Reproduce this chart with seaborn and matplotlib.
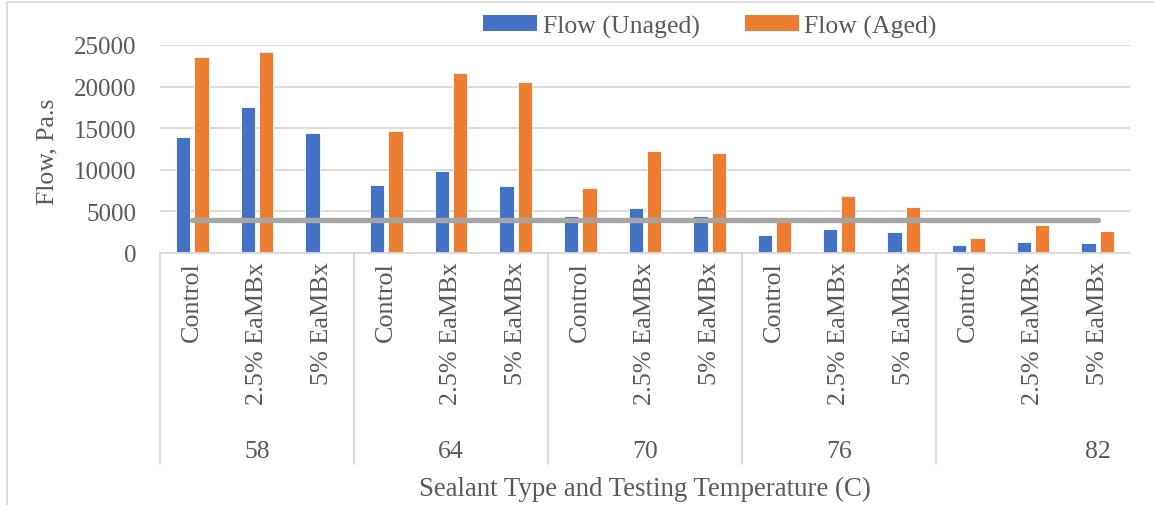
import matplotlib
matplotlib.use("Agg")
import matplotlib.pyplot as plt
import seaborn as sns
import pandas as pd
from matplotlib.lines import Line2D
from matplotlib.patches import Patch

temperatures = ["58", "64", "70", "76", "82"]
sealants = ["Control", "2.5% EaMBx", "5% EaMBx"]
flow_unaged = [14000, 17600, 14400, 8200, 9900, 8000, 4450, 5380, 4450,
               2170, 2890, 2530, 930, 1290, 1200]
flow_aged = [23500, 24100, 0, 14700, 21600, 20500, 7850, 12250, 12000,
             3900, 6870, 5540, 1770, 3410, 2650]
threshold = [4000, 4000, 4000, 4000, 4000, 4000, 4000, 4000, 4000,
             4000, 4000, 4000, 4000, 4000, 4000]
yticks = [0, 5000, 10000, 15000, 20000, 25000]
series_names = ["Flow (Unaged)", "Flow (Aged)"]

blue = "#4472C4"
orange = "#ED7D31"
grey = "#A5A5A5"
txt = "#595959"
gridc = "#D9D9D9"

sns.set_style("white")
plt.rcParams["font.family"] = ["Liberation Serif", "DejaVu Serif"]
plt.rcParams["font.size"] = 18

cats = [f"{t}|{s}" for t in temperatures for s in sealants]
df = pd.DataFrame({
    "cat": cats * 2,
    "value": flow_unaged + flow_aged,
    "series": [series_names[0]] * len(cats) + [series_names[1]] * len(cats),
})
line_df = pd.DataFrame({"pos": list(range(len(cats))), "value": threshold})

fig = plt.figure(figsize=(11.54, 5.06), dpi=100)
ax = fig.add_axes([160 / 1154, 1 - 254 / 506, (1130 - 160) / 1154, (254 - 46) / 506])

sns.barplot(data=df, x="cat", y="value", hue="series", order=cats,
            hue_order=series_names, palette=[blue, orange], saturation=1,
            width=0.57, gap=0.21, ax=ax, legend=False, zorder=2,
            linewidth=0.6, edgecolor="white")
sns.lineplot(data=line_df, x="pos", y="value", color=grey, linewidth=3.8,
             ax=ax, zorder=3, solid_capstyle="round")

ax.set_xlim(-0.5, len(cats) - 0.5)
ax.set_ylim(0, 25000)
ax.set_yticks(yticks)
ax.set_yticklabels([str(v) for v in yticks], color=txt, fontsize=18)
ax.grid(axis="y", color=gridc, linewidth=1.3, zorder=0)
ax.set_axisbelow(True)
for s in ["left", "right", "top"]:
    ax.spines[s].set_visible(False)
ax.spines["bottom"].set_color(gridc)
ax.spines["bottom"].set_linewidth(1.3)
ax.tick_params(axis="y", length=0, pad=17)

ax.set_xticks(range(len(cats)))
ax.set_xticklabels([s for t in temperatures for s in sealants], rotation=90,
                   color=txt, fontsize=18.8, va="top", ha="center")
ax.tick_params(axis="x", length=0, pad=6)

# group separators
trans = ax.get_xaxis_transform()
for b in [-0.5, 2.5, 5.5, 8.5, 11.5]:
    ax.add_line(Line2D([b, b], [0, -211 / 208], transform=trans, color=gridc,
                       linewidth=1.3, clip_on=False))

group_pos = [1, 4, 7, 10, 14]
for t, p in zip(temperatures, group_pos):
    ax.text(p, -198 / 208, t, transform=trans, ha="center", va="center",
            color=txt, fontsize=18.5)

ax.set_xlabel("")
ax.set_ylabel("")
fig.text(645 / 1154, 1 - 489 / 506, "Sealant Type and Testing Temperature (C)",
         ha="center", va="center", color=txt, fontsize=19.4)
fig.text(47 / 1154, 1 - 152 / 506, "Flow, Pa.s", rotation=90, ha="center",
         va="center", color=txt, fontsize=18.5)

handles = [Patch(facecolor=blue, edgecolor="none"),
           Patch(facecolor=orange, edgecolor="none")]
fig.legend(handles, series_names, loc="center", bbox_to_anchor=(710 / 1154, 1 - 27 / 506),
           ncol=2, frameon=False, fontsize=18.5, labelcolor=txt, handlelength=2.1,
           handleheight=0.55, handletextpad=0.22, columnspacing=1.75)

# chart border (left and top visible)
fig.add_artist(Line2D([6.5 / 1154, 6.5 / 1154], [0, 1 - 3 / 506], transform=fig.transFigure,
                      color=gridc, linewidth=1.3))
fig.add_artist(Line2D([6.5 / 1154, 1], [1 - 3 / 506, 1 - 3 / 506], transform=fig.transFigure,
                      color=gridc, linewidth=1.3))

fig.savefig("out.png", dpi=100)
